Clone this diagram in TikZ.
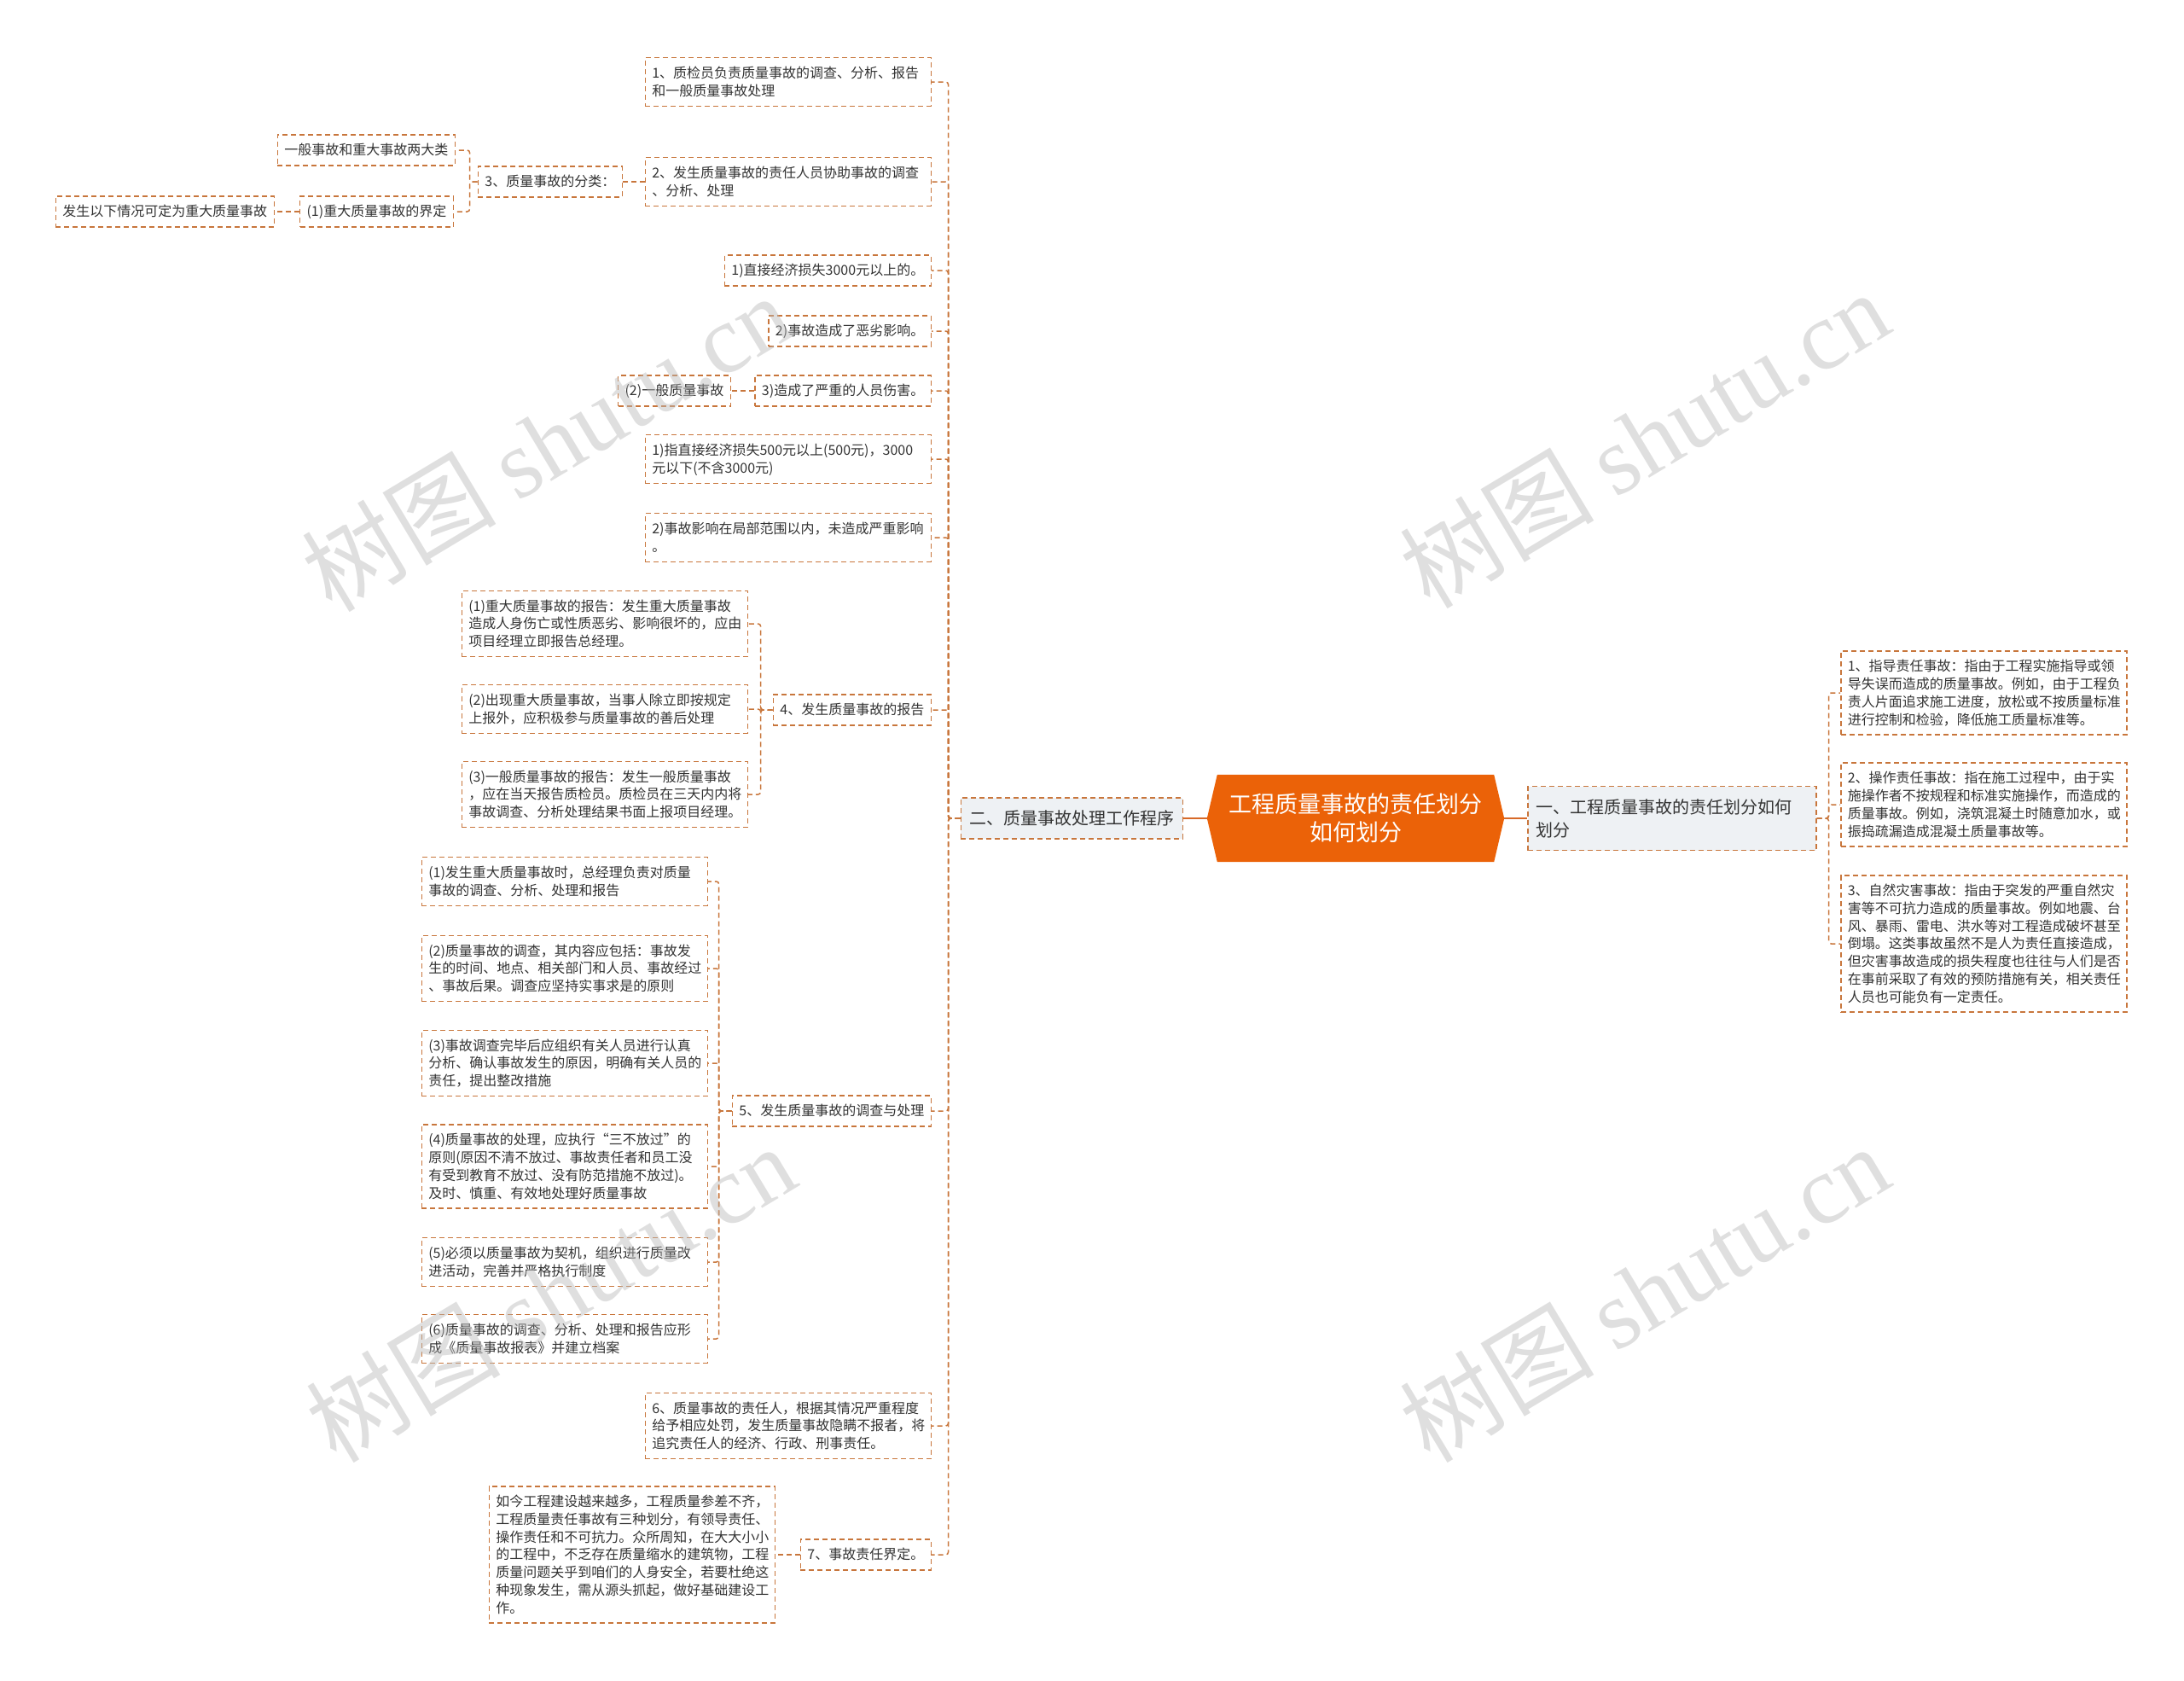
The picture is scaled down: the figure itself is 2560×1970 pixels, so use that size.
\documentclass[tikz,border=0pt]{standalone}
\usepackage{fontspec}
\setmainfont{Noto Sans CJK SC}
\newfontfamily\wmfont{Liberation Serif}
\usetikzlibrary{calc,backgrounds}
\definecolor{brd}{RGB}{200,118,60}
\definecolor{rootc}{RGB}{235,98,8}
\definecolor{rootln}{RGB}{215,105,40}
\definecolor{topicc}{RGB}{238,241,244}
\definecolor{txt}{RGB}{51,51,51}
\definecolor{wmc}{RGB}{185,185,185}
\newcommand{\lstrut}{\rule[-4.4pt]{0pt}{20.7pt}}
\newcommand{\tstrut}{\rule[-5.9pt]{0pt}{27pt}}

\begin{document}
\begin{tikzpicture}[
    x=1pt, y=-1pt,
    leaf/.style={draw=brd, line width=1.5pt, dash pattern=on 6pt off 4pt, fill=white,
                 text=txt, font=\fontsize{16}{20.7}\selectfont, align=left,
                 inner xsep=8pt, inner ysep=7.6pt,
                 execute at begin node=\lstrut, execute at end node=\lstrut},
    wide/.style={leaf, text width=319pt},
    topic/.style={leaf, fill=topicc, font=\fontsize{20}{27}\selectfont,
                  inner xsep=10pt, inner ysep=10.5pt,
                  execute at begin node=\tstrut, execute at end node=\tstrut},
    rootbox/.style={text=white, font=\fontsize{27}{33}\selectfont, align=center,
                    minimum width=348pt, minimum height=102pt, inner sep=0pt},
    branch/.style={draw=brd, line width=1.5pt, dash pattern=on 6pt off 4pt, rounded corners=3pt},
    trunk/.style={draw=rootln, line width=2.5pt},
    wmark/.style={text=wmc, opacity=0.45, font=\fontsize{114}{114}\selectfont, rotate=31},
  ]
    \useasboundingbox (0,0) rectangle (2560,1970);

    % centre and main topics
    \node[rootbox] (root) at (1589,959) {工程质量事故的责任划分\\如何划分};
    \begin{scope}[on background layer]
      \fill[rootc] ($(root.north west)+(12,0)$) -- ($(root.north east)+(-12,0)$) -- (root.east)
        -- ($(root.south east)+(-12,0)$) -- ($(root.south west)+(12,0)$) -- (root.west) -- cycle;
    \end{scope}
    \node[topic, anchor=west, text width=318pt] (a1) at (1790,959) {一、工程质量事故的责任划分如何\\划分};
    \node[topic, anchor=east] (b) at (1387,959) {二、质量事故处理工作程序};

    % right side
    \node[wide, anchor=west] (r1) at (2157,812) {1、指导责任事故：指由于工程实施指导或领\\导失误而造成的质量事故。例如，由于工程负\\责人片面追求施工进度，放松或不按质量标准\\进行控制和检验，降低施工质量标准等。};
    \node[wide, anchor=west] (r2) at (2157,943) {2、操作责任事故：指在施工过程中，由于实\\施操作者不按规程和标准实施操作，而造成的\\质量事故。例如，浇筑混凝土时随意加水，或\\振捣疏漏造成混凝土质量事故等。};
    \node[wide, anchor=west] (r3) at (2157,1106) {3、自然灾害事故：指由于突发的严重自然灾\\害等不可抗力造成的质量事故。例如地震、台\\风、暴雨、雷电、洪水等对工程造成破坏甚至\\倒塌。这类事故虽然不是人为责任直接造成，\\但灾害事故造成的损失程度也往往与人们是否\\在事前采取了有效的预防措施有关，相关责任\\人员也可能负有一定责任。};

    % left side
    \node[wide, anchor=east] (n1) at (1092,96) {1、质检员负责质量事故的调查、分析、报告\\和一般质量事故处理};
    \node[wide, anchor=east] (n2) at (1092,213) {2、发生质量事故的责任人员协助事故的调查\\、分析、处理};
    \node[leaf, anchor=east] (c3) at (730,213) {3、质量事故的分类：};
    \node[leaf, anchor=east] (d1) at (534,176) {一般事故和重大事故两大类};
    \node[leaf, anchor=east] (d2) at (532,248) {(1)重大质量事故的界定};
    \node[leaf, anchor=east] (e1) at (322,248) {发生以下情况可定为重大质量事故};
    \node[leaf, anchor=east] (p1) at (1092,317) {1)直接经济损失3000元以上的。};
    \node[leaf, anchor=east] (p2) at (1092,388) {2)事故造成了恶劣影响。};
    \node[leaf, anchor=east] (p3) at (1092,458) {3)造成了严重的人员伤害。};
    \node[leaf, anchor=east] (g) at (857,458) {(2)一般质量事故};
    \node[wide, anchor=east] (q1) at (1092,538) {1)指直接经济损失500元以上(500元)，3000\\元以下(不含3000元)};
    \node[wide, anchor=east] (q2) at (1092,630) {2)事故影响在局部范围以内，未造成严重影响\\。};
    \node[leaf, anchor=east] (s4) at (1092,832) {4、发生质量事故的报告};
    \node[wide, anchor=east] (t1) at (877,731) {(1)重大质量事故的报告：发生重大质量事故\\造成人身伤亡或性质恶劣、影响很坏的，应由\\项目经理立即报告总经理。};
    \node[wide, anchor=east] (t2) at (877,831) {(2)出现重大质量事故，当事人除立即按规定\\上报外，应积极参与质量事故的善后处理};
    \node[wide, anchor=east] (t3) at (877,931) {(3)一般质量事故的报告：发生一般质量事故\\，应在当天报告质检员。质检员在三天内内将\\事故调查、分析处理结果书面上报项目经理。};
    \node[leaf, anchor=east] (s5) at (1092,1302) {5、发生质量事故的调查与处理};
    \node[wide, anchor=east] (u1) at (830,1033) {(1)发生重大质量事故时，总经理负责对质量\\事故的调查、分析、处理和报告};
    \node[wide, anchor=east] (u2) at (830,1135) {(2)质量事故的调查，其内容应包括：事故发\\生的时间、地点、相关部门和人员、事故经过\\、事故后果。调查应坚持实事求是的原则};
    \node[wide, anchor=east] (u3) at (830,1246) {(3)事故调查完毕后应组织有关人员进行认真\\分析、确认事故发生的原因，明确有关人员的\\责任，提出整改措施};
    \node[wide, anchor=east] (u4) at (830,1367) {(4)质量事故的处理，应执行“三不放过”的\\原则(原因不清不放过、事故责任者和员工没\\有受到教育不放过、没有防范措施不放过)。\\及时、慎重、有效地处理好质量事故};
    \node[wide, anchor=east] (u5) at (830,1479) {(5)必须以质量事故为契机，组织进行质量改\\进活动，完善并严格执行制度};
    \node[wide, anchor=east] (u6) at (830,1569) {(6)质量事故的调查、分析、处理和报告应形\\成《质量事故报表》并建立档案};
    \node[wide, anchor=east] (n6) at (1092,1671) {6、质量事故的责任人，根据其情况严重程度\\给予相应处罚，发生质量事故隐瞒不报者，将\\追究责任人的经济、行政、刑事责任。};
    \node[leaf, anchor=east] (s7) at (1092,1822) {7、事故责任界定。};
    \node[wide, anchor=east] (v) at (909,1822) {如今工程建设越来越多，工程质量参差不齐，\\工程质量责任事故有三种划分，有领导责任、\\操作责任和不可抗力。众所周知，在大大小小\\的工程中，不乏存在质量缩水的建筑物，工程\\质量问题关乎到咱们的人身安全，若要杜绝这\\种现象发生，需从源头抓起，做好基础建设工\\作。};

    % connectors
    \draw[trunk] (root.east) -- (a1.west);
    \draw[trunk] (root.west) -- (b.east);
    \draw[branch] (a1.east) -- ++(14,0) |- (r1.west);
    \draw[branch] (a1.east) -- ++(14,0) |- (r2.west);
    \draw[branch] (a1.east) -- ++(14,0) |- (r3.west);
    \draw[branch] (b.west) -- ++(-14,0) |- (n1.east);
    \draw[branch] (b.west) -- ++(-14,0) |- (n2.east);
    \draw[branch] (b.west) -- ++(-14,0) |- (p1.east);
    \draw[branch] (b.west) -- ++(-14,0) |- (p2.east);
    \draw[branch] (b.west) -- ++(-14,0) |- (p3.east);
    \draw[branch] (b.west) -- ++(-14,0) |- (q1.east);
    \draw[branch] (b.west) -- ++(-14,0) |- (q2.east);
    \draw[branch] (b.west) -- ++(-14,0) |- (s4.east);
    \draw[branch] (b.west) -- ++(-14,0) |- (s5.east);
    \draw[branch] (b.west) -- ++(-14,0) |- (n6.east);
    \draw[branch] (b.west) -- ++(-14,0) |- (s7.east);
    \draw[branch] (n2.west) -- (c3.east);
    \draw[branch] (c3.west) -- ++(-9,0) |- (d1.east);
    \draw[branch] (c3.west) -- ++(-9,0) |- (d2.east);
    \draw[branch] (d2.west) -- (e1.east);
    \draw[branch] (p3.west) -- (g.east);
    \draw[branch] (s4.west) -- ++(-14,0) |- (t1.east);
    \draw[branch] (s4.west) -- ++(-14,0) |- (t2.east);
    \draw[branch] (s4.west) -- ++(-14,0) |- (t3.east);
    \draw[branch] (s5.west) -- ++(-15,0) |- (u1.east);
    \draw[branch] (s5.west) -- ++(-15,0) |- (u2.east);
    \draw[branch] (s5.west) -- ++(-15,0) |- (u3.east);
    \draw[branch] (s5.west) -- ++(-15,0) |- (u4.east);
    \draw[branch] (s5.west) -- ++(-15,0) |- (u5.east);
    \draw[branch] (s5.west) -- ++(-15,0) |- (u6.east);
    \draw[branch] (s7.west) -- (v.east);

    % watermarks
    \node[wmark] (wm1) at (640,518) {树图 {\wmfont shutu.cn}};
    \node[wmark] (wm2) at (1927,514) {树图 {\wmfont shutu.cn}};
    \node[wmark] (wm3) at (645,1515) {树图 {\wmfont shutu.cn}};
    \node[wmark] (wm4) at (1927,1515) {树图 {\wmfont shutu.cn}};
\end{tikzpicture}
\end{document}
